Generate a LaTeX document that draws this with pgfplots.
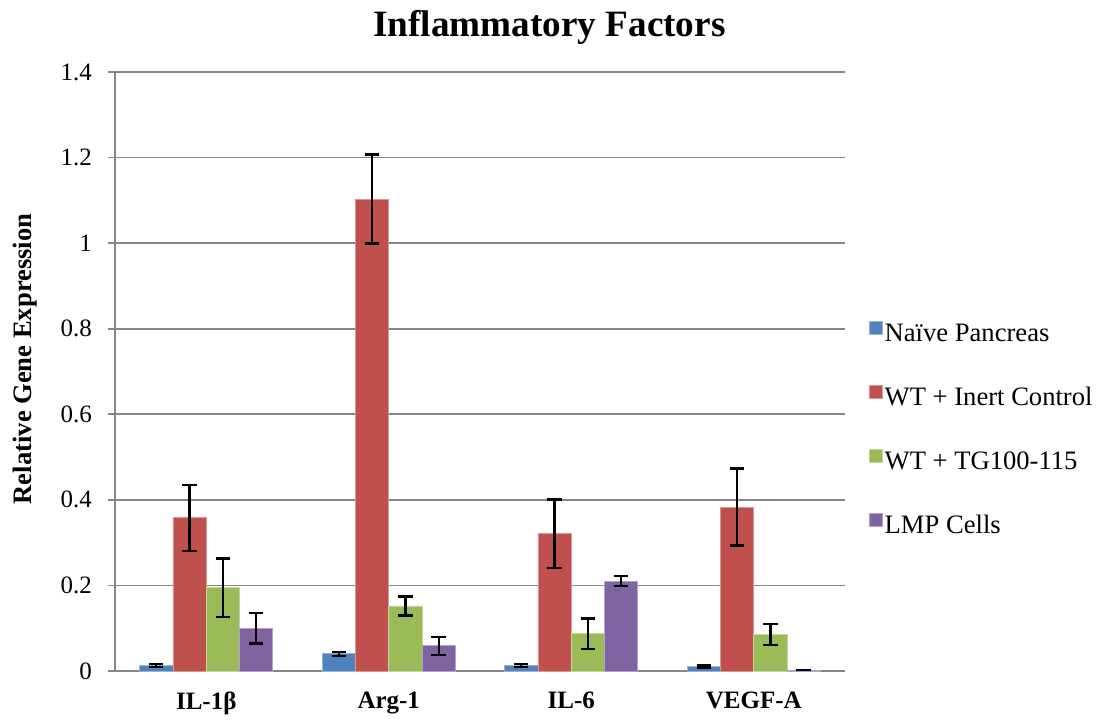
\documentclass[border=0pt]{standalone}
\usepackage{pgfplots}
\pgfplotsset{compat=1.18}
\usepackage{pgfplotstable}
\usepackage{fontspec}
\setmainfont{LiberationSerif}[Extension=.ttf, UprightFont=*-Regular, BoldFont=*-Bold, ItalicFont=*-Italic, BoldItalicFont=*-BoldItalic]
\definecolor{cblue}{RGB}{79,129,189}
\definecolor{cred}{RGB}{192,80,77}
\definecolor{cgreen}{RGB}{155,187,89}
\definecolor{cpurple}{RGB}{128,100,162}
\definecolor{gridgray}{RGB}{134,134,134}
\pgfplotstableread{
x y e
0 0.013 0.003
1 0.040 0.005
2 0.013 0.003
3 0.010 0.003
}\naive
\pgfplotstableread{
x y e
0 0.358 0.077
1 1.103 0.104
2 0.321 0.080
3 0.383 0.090
}\inert
\pgfplotstableread{
x y e
0 0.195 0.068
1 0.152 0.022
2 0.087 0.036
3 0.085 0.025
}\tg
\pgfplotstableread{
x y e
0 0.100 0.036
1 0.059 0.021
2 0.210 0.012
3 0.002 0.000
}\lmp
\begin{document}
\begin{tikzpicture}
\useasboundingbox (0,0) rectangle (552pt,360pt);
\begin{axis}[
  at={(57.5pt,24.5pt)}, anchor=south west,
  scale only axis, width=365pt, height=299.5pt,
  xmin=-0.5, xmax=3.5, ymin=0, ymax=1.4,
  ybar=0pt, bar width=16.65pt,
  xtick={0,1,2,3},
  xticklabels={IL-1β,Arg-1,IL-6,VEGF-A},
  ytick={0,0.2,0.4,0.6,0.8,1,1.2,1.4},
  /pgf/number format/assume math mode=true,
  tick label style={font=\fontsize{12.5}{15}\selectfont},
  yticklabel style={xshift=-4.5pt},
  xticklabel style={font=\fontsize{12.5}{15}\selectfont\bfseries, yshift=-3.5pt},
  x tick style={draw=none},
  y tick style={draw=gridgray, line width=0.9pt},
  tick align=outside, major tick length=3.5pt,
  ymajorgrids, major grid style={draw=gridgray, line width=0.9pt},
  axis x line*=bottom, axis y line*=left,
  axis line style={draw=gridgray, line width=0.9pt},
  title={Inflammatory Factors},
  title style={font=\fontsize{18.6}{22}\selectfont\bfseries, at={(axis description cs:0.595,1)}, anchor=base, yshift=12pt},
  ylabel={Relative Gene Expression},
  ylabel style={font=\fontsize{13.3}{15}\selectfont\bfseries, at={(axis description cs:-0.123,0.521)}, anchor=center},
  legend style={draw=none, fill=none, at={(axis description cs:1.024,0.401)}, anchor=west,
    font=\fontsize{13.3}{16}\selectfont, row sep=17.5pt,
    nodes={text height=9.5pt, text depth=3pt, inner sep=1pt}},
  legend cell align=left,
  legend image code/.code={\fill[#1] (0pt,0.3pt) rectangle (6.5pt,6.6pt);},
  error bars/y dir=both, error bars/y explicit,
  error bars/error bar style={black, line width=1.15pt},
  error bars/error mark options={rotate=90, black, mark size=3.6pt, line width=1.15pt},
]
\addplot[fill=cblue, draw=cblue!60!white, line width=0.4pt] table[x=x, y=y, y error=e] {\naive};
\addplot[fill=cred, draw=cred!60!white, line width=0.4pt] table[x=x, y=y, y error=e] {\inert};
\addplot[fill=cgreen, draw=cgreen!60!white, line width=0.4pt] table[x=x, y=y, y error=e] {\tg};
\addplot[fill=cpurple, draw=cpurple!60!white, line width=0.4pt] table[x=x, y=y, y error=e] {\lmp};
\legend{Naïve Pancreas, WT + Inert Control, WT + TG100-115, LMP Cells}
\end{axis}
\end{tikzpicture}
\end{document}
